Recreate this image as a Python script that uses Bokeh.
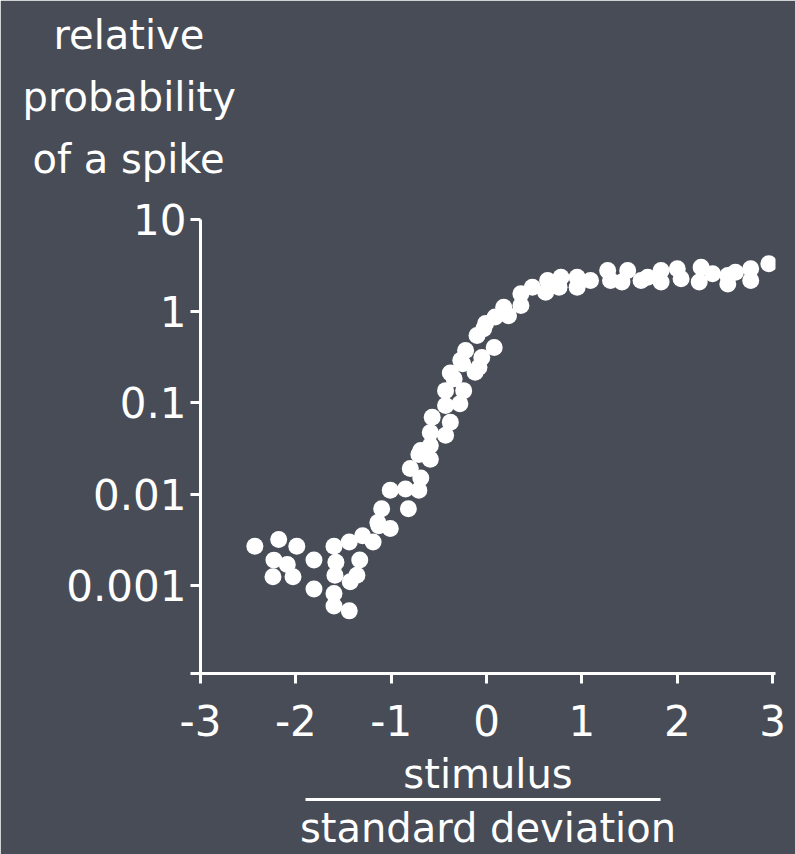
from bokeh.plotting import figure
from bokeh.models import Range1d, FixedTicker, Title, LinearAxis
from bokeh.embed import file_html
from bokeh.resources import INLINE

# ---- data ----
stimulus = [-2.43, -2.18, -1.99, -2.23, -2.09, -1.81, -2.24, -2.03, -1.81,
            -1.13, -1.01, -1.30, -1.44, -1.19, -1.60, -1.58, -1.33, -1.59, -1.36,
            -1.43, -1.60, -1.60, -1.44,
            -0.59, -0.71, -0.59, -0.80, -0.69, -1.01, -0.85, -0.71, -1.10, -0.82, -1.14,
            -0.25, -0.08, -0.34, -0.12, -0.43, -0.24, -0.43, -0.28, -0.57, -0.38,
            -0.59, -0.43, -0.69,
            0.36, 0.18, 0.23, 0.09, -0.03, -0.10, 0.08, -0.22, -0.05, -0.27, -0.38,
            0.36, -0.01,
            0.48, 0.64, 0.62, 0.78, 0.76, 0.95, 0.95, 1.09, 1.27, 1.30, 1.48, 1.42,
            1.62, 1.69, 1.83, 1.83, 2.00, 2.04, 2.25, 2.23, 2.37, 2.53, 2.53, 2.61,
            2.77, 2.77, 2.96]
rel_prob = [0.0027, 0.0032, 0.0027, 0.0019, 0.0017, 0.0019, 0.00125, 0.00125, 0.00092,
            0.0045, 0.0042, 0.0035, 0.0030, 0.0030, 0.0027, 0.0018, 0.0019, 0.0013, 0.0013,
            0.0011, 0.00082, 0.0006, 0.00053,
            0.034, 0.027, 0.024, 0.019, 0.015, 0.011, 0.0114, 0.011, 0.0069, 0.0069, 0.0049,
            0.265, 0.243, 0.182, 0.214, 0.135, 0.135, 0.093, 0.097, 0.069, 0.061,
            0.047, 0.044, 0.030,
            1.54, 1.10, 0.89, 0.86, 0.64, 0.54, 0.40, 0.37, 0.31, 0.29, 0.21,
            1.15, 0.73,
            1.82, 2.15, 1.60, 2.34, 1.82, 2.34, 1.82, 2.15, 2.77, 2.15, 2.77, 2.07,
            2.15, 2.34, 2.77, 2.07, 2.89, 2.25, 3.01, 2.07, 2.55, 2.44, 1.98, 2.65,
            2.89, 2.15, 3.28]

x_ticks = [-3, -2, -1, 0, 1, 2, 3]
x_tick_labels = ["-3", "-2", "-1", "0", "1", "2", "3"]
y_ticks = [0.001, 0.01, 0.1, 1, 10]
y_tick_labels = ["0.001", "0.01", "0.1", "1", "10"]
y_label_lines = ["relative", "probability", "of a spike"]
x_label_top = "stimulus"
x_label_bottom = "standard deviation"

x_start, x_end = -3, 3.03
y_start, y_end = 10 ** -3.96, 10

BG = "#474c56"
FONT = "DejaVu Sans"

p = figure(width=795, height=854, y_axis_type="log", title=None,
           x_range=Range1d(x_start, x_end), y_range=Range1d(y_start, y_end),
           output_backend="svg", toolbar_location=None,
           min_border_left=200, min_border_right=20,
           min_border_top=219, min_border_bottom=181)

p.background_fill_color = BG
p.border_fill_color = BG
p.outline_line_color = BG
p.outline_line_width = 2
p.xgrid.visible = False
p.ygrid.visible = False

p.scatter(stimulus, rel_prob, size=17, fill_color="white", line_color="white", line_width=0)

for ax in (p.xaxis[0], p.yaxis[0]):
    ax.axis_line_color = "white"
    ax.axis_line_width = 3
    ax.major_tick_line_color = "white"
    ax.major_tick_line_width = 3
    ax.major_tick_in = 0
    ax.major_tick_out = 10
    ax.minor_tick_line_color = "white"
    ax.minor_tick_line_width = 3
    ax.minor_tick_in = 0
    ax.minor_tick_out = 10
    ax.major_label_text_color = "white"
    ax.major_label_text_font = FONT
    ax.major_label_text_font_size = "42px"

p.xaxis.ticker = FixedTicker(ticks=x_ticks)
p.xaxis.major_label_overrides = dict(zip(x_ticks, x_tick_labels))
p.xaxis.major_label_standoff = 21
p.xaxis.major_label_text_line_height = 1.0
p.xaxis.axis_label = x_label_top
p.xaxis.axis_label_standoff = 12
p.xaxis.axis_label_text_color = "white"
p.xaxis.axis_label_text_font = FONT
p.xaxis.axis_label_text_font_size = "40px"
p.xaxis.axis_label_text_font_style = "normal"
p.xaxis.axis_label_text_line_height = 1.0

p.yaxis.ticker = FixedTicker(ticks=y_ticks, minor_ticks=[y_start])
p.yaxis.major_label_overrides = dict(zip(y_ticks, y_tick_labels))
p.yaxis.major_label_standoff = 4

# fraction bar + denominator: a second, tick-less axis below, bounded
frac = LinearAxis(bounds=(-1.9, 1.82), ticker=FixedTicker(ticks=[]),
                  axis_line_color="white", axis_line_width=3,
                  major_tick_line_color=None, minor_tick_line_color=None,
                  major_label_text_font_size="0px",
                  axis_label=x_label_bottom, axis_label_standoff=5,
                  axis_label_text_color="white", axis_label_text_font=FONT,
                  axis_label_text_font_size="40px", axis_label_text_font_style="normal",
                  axis_label_text_line_height=1.0)
p.add_layout(frac, "below")

# y label: three lines stacked above the plot, left of the frame
p.add_layout(Title(text=" ", text_font_size="1px", standoff=28), "above")
offsets = [-147, -178, -168]
for line, off in reversed(list(zip(y_label_lines, offsets))):
    p.add_layout(Title(text=line, align="left", offset=off, standoff=14,
                       text_color="white", text_font=FONT, text_font_size="40px",
                       text_font_style="normal"), "above")

open("out.html", "w").write(file_html(p, INLINE))
